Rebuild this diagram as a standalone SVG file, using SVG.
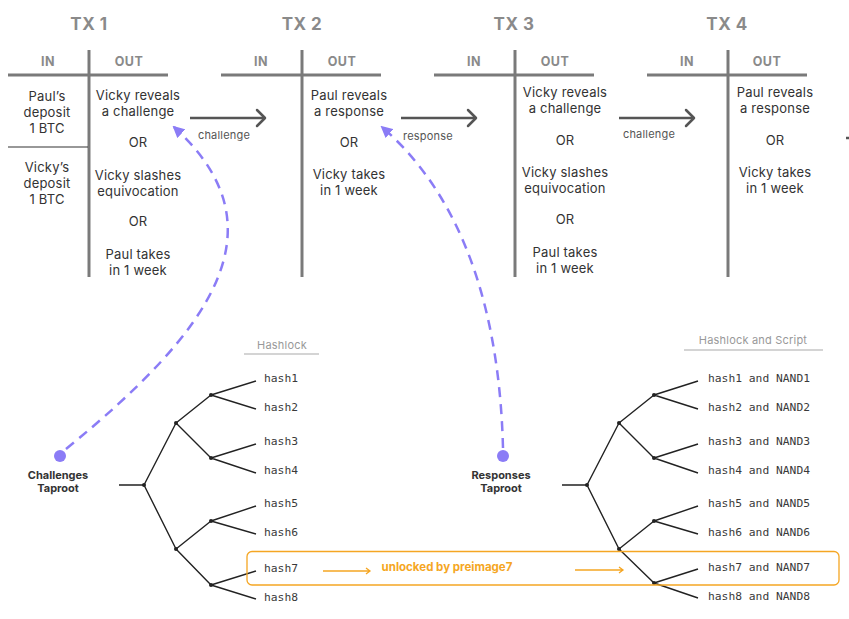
<svg xmlns="http://www.w3.org/2000/svg" width="849" height="619" viewBox="0 0 849 619">
<style>
.title{font-family:Inter,"Liberation Sans",sans-serif;font-weight:700;font-size:17px;fill:#8a8a8a;text-anchor:middle;letter-spacing:0.5px}
.hdr{font-family:Inter,"Liberation Sans",sans-serif;font-weight:700;font-size:12.5px;fill:#8a8a8a;text-anchor:middle;letter-spacing:0.5px}
.body{font-family:Inter,"Liberation Sans",sans-serif;font-size:13px;fill:#333;text-anchor:middle;letter-spacing:0.2px}
.lbl{font-family:Inter,"Liberation Sans",sans-serif;font-size:11px;fill:#555;text-anchor:middle;letter-spacing:0.2px}
.thick{stroke:#7a7a7a;stroke-width:3;fill:none}
.thin{stroke:#333;stroke-width:1.2;fill:none}
.arr{stroke:#555;stroke-width:2.5;fill:none}
.ahead{stroke:#555;stroke-width:2.5;fill:none;stroke-linecap:round;stroke-linejoin:round}
.dash{stroke:#8b7cf6;stroke-width:2.5;fill:none;stroke-dasharray:10 7}
.tree{stroke:#222;stroke-width:1.4;fill:none}
.node{fill:#222}
.mono{font-family:"DejaVu Sans Mono","Liberation Mono",monospace;font-size:11.3px;fill:#3a3a3a}
.cap{font-family:Inter,"Liberation Sans",sans-serif;font-size:11px;fill:#999;text-anchor:middle;letter-spacing:0.2px}
.capline{stroke:#aaa;stroke-width:1.2}
.root{font-family:Inter,"Liberation Sans",sans-serif;font-weight:700;font-size:11px;fill:#333;text-anchor:middle}
.orange{stroke:#f5a623;stroke-width:1.3;fill:none}
.otext{font-family:Inter,"Liberation Sans",sans-serif;font-weight:700;font-size:11.5px;fill:#f5a623;text-anchor:middle}
</style>
<defs>
<marker id="pa" markerWidth="12" markerHeight="12" viewBox="0 0 12 12" refX="10" refY="6" orient="auto" markerUnits="userSpaceOnUse">
<path d="M0,0 L12,6 L0,12 Z" fill="#8b7cf6"/>
</marker>
</defs>

<g id="tx1">
<text class="title" x="89" y="30">TX 1</text>
<text class="hdr" x="48" y="66">IN</text>
<text class="hdr" x="129" y="66">OUT</text>
<line class="thick" x1="8" y1="75" x2="168" y2="75"/>
<line class="thick" x1="89" y1="50" x2="89" y2="277"/>
<line class="thin" x1="8" y1="147" x2="88" y2="147"/>
<text class="body" x="47" y="101">Paul’s</text>
<text class="body" x="47" y="117">deposit</text>
<text class="body" x="47" y="133">1 BTC</text>
<text class="body" x="47" y="172">Vicky’s</text>
<text class="body" x="47" y="188">deposit</text>
<text class="body" x="47" y="204">1 BTC</text>
<text class="body" x="138" y="100">Vicky reveals</text>
<text class="body" x="138" y="116">a challenge</text>
<text class="body" x="138" y="147">OR</text>
<text class="body" x="138" y="180">Vicky slashes</text>
<text class="body" x="138" y="196">equivocation</text>
<text class="body" x="138" y="226">OR</text>
<text class="body" x="138" y="259">Paul takes</text>
<text class="body" x="138" y="275">in 1 week</text>
</g>

<g id="tx2">
<text class="title" x="302" y="30">TX 2</text>
<text class="hdr" x="261" y="66">IN</text>
<text class="hdr" x="342" y="66">OUT</text>
<line class="thick" x1="221" y1="75" x2="381" y2="75"/>
<line class="thick" x1="302" y1="50" x2="302" y2="277"/>
<text class="body" x="349" y="100">Paul reveals</text>
<text class="body" x="349" y="116">a response</text>
<text class="body" x="349" y="147">OR</text>
<text class="body" x="349" y="179">Vicky takes</text>
<text class="body" x="349" y="195">in 1 week</text>
</g>

<g id="tx3">
<text class="title" x="514" y="30">TX 3</text>
<text class="hdr" x="474" y="66">IN</text>
<text class="hdr" x="555" y="66">OUT</text>
<line class="thick" x1="434" y1="75" x2="594" y2="75"/>
<line class="thick" x1="515" y1="50" x2="515" y2="277"/>
<text class="body" x="565" y="97">Vicky reveals</text>
<text class="body" x="565" y="113">a challenge</text>
<text class="body" x="565" y="145">OR</text>
<text class="body" x="565" y="177">Vicky slashes</text>
<text class="body" x="565" y="193">equivocation</text>
<text class="body" x="565" y="224">OR</text>
<text class="body" x="565" y="257">Paul takes</text>
<text class="body" x="565" y="273">in 1 week</text>
</g>

<g id="tx4">
<text class="title" x="727" y="30">TX 4</text>
<text class="hdr" x="687" y="66">IN</text>
<text class="hdr" x="767" y="66">OUT</text>
<line class="thick" x1="647" y1="75" x2="807" y2="75"/>
<line class="thick" x1="728" y1="50" x2="728" y2="277"/>
<text class="body" x="775" y="97">Paul reveals</text>
<text class="body" x="775" y="113">a response</text>
<text class="body" x="775" y="145">OR</text>
<text class="body" x="775" y="177">Vicky takes</text>
<text class="body" x="775" y="193">in 1 week</text>
</g>

<g id="challenges-tree">
<text class="cap" x="282" y="349">Hashlock</text>
<line class="capline" x1="244" y1="354" x2="319" y2="354"/>
<circle cx="60" cy="456" r="6" fill="#8b7cf6"/>
<text class="root" x="58" y="479">Challenges</text>
<text class="root" x="58" y="492">Taproot</text>
<path class="tree" d="M119,485 H144 M144,485 L176,423 M144,485 L176,549 M176,423 L211,395 M176,423 L211,458 M176,549 L211,521 M176,549 L211,585 M211,395 L256,381 M211,395 L256,409 M211,458 L256,444 M211,458 L256,473 M211,521 L256,506 M211,521 L256,534 M211,585 L256,571 M211,585 L256,599"/>
<circle class="node" cx="144" cy="485" r="2"/>
<circle class="node" cx="176" cy="423" r="2"/>
<circle class="node" cx="176" cy="549" r="2"/>
<circle class="node" cx="211" cy="395" r="2"/>
<circle class="node" cx="211" cy="458" r="2"/>
<circle class="node" cx="211" cy="521" r="2"/>
<circle class="node" cx="211" cy="585" r="2"/>
<text class="mono" x="264" y="382">hash1</text>
<text class="mono" x="264" y="411">hash2</text>
<text class="mono" x="264" y="445">hash3</text>
<text class="mono" x="264" y="474">hash4</text>
<text class="mono" x="264" y="507">hash5</text>
<text class="mono" x="264" y="536">hash6</text>
<text class="mono" x="264" y="572">hash7</text>
<text class="mono" x="264" y="601">hash8</text>
</g>

<g id="responses-tree">
<text class="cap" x="753" y="344">Hashlock and Script</text>
<line class="capline" x1="684" y1="350" x2="823" y2="350"/>
<circle cx="503" cy="456" r="6" fill="#8b7cf6"/>
<text class="root" x="501" y="479">Responses</text>
<text class="root" x="501" y="492">Taproot</text>
<path class="tree" d="M562,485 H587 M587,485 L619,423 M587,485 L619,549 M619,423 L654,395 M619,423 L654,458 M619,549 L654,521 M619,549 L654,583 M654,395 L698,381 M654,395 L698,409 M654,458 L698,444 M654,458 L698,473 M654,521 L698,506 M654,521 L698,534 M654,583 L698,569 M654,583 L698,598"/>
<circle class="node" cx="587" cy="485" r="2"/>
<circle class="node" cx="619" cy="423" r="2"/>
<circle class="node" cx="619" cy="549" r="2"/>
<circle class="node" cx="654" cy="395" r="2"/>
<circle class="node" cx="654" cy="458" r="2"/>
<circle class="node" cx="654" cy="521" r="2"/>
<circle class="node" cx="654" cy="583" r="2"/>
<text class="mono" x="708" y="382">hash1 and NAND1</text>
<text class="mono" x="708" y="411">hash2 and NAND2</text>
<text class="mono" x="708" y="445">hash3 and NAND3</text>
<text class="mono" x="708" y="474">hash4 and NAND4</text>
<text class="mono" x="708" y="507">hash5 and NAND5</text>
<text class="mono" x="708" y="536">hash6 and NAND6</text>
<text class="mono" x="708" y="571">hash7 and NAND7</text>
<text class="mono" x="708" y="600">hash8 and NAND8</text>
</g>

<g id="unlock-highlight">
<rect class="orange" x="247" y="551.5" width="592" height="33.5" rx="5"/>
<path class="orange" d="M323,571 H370 M366,568 L370,571 L366,574"/>
<text class="otext" x="447" y="571">unlocked by preimage7</text>
<path class="orange" d="M575,570 H623 M619,567 L623,570 L619,573"/>
</g>

<g id="connectors">
<path class="arr" d="M190,118 H265"/>
<path class="ahead" d="M257,110 L265,118 L257,126"/>
<text class="lbl" x="224" y="139">challenge</text>
<path class="arr" d="M401,118 H476"/>
<path class="ahead" d="M468,110 L476,118 L468,126"/>
<text class="lbl" x="428" y="140">response</text>
<path class="arr" d="M619,118 H694"/>
<path class="ahead" d="M686,110 L694,118 L686,126"/>
<text class="lbl" x="649" y="138">challenge</text>
<path class="arr" d="M846,138 H849"/>
<path class="dash" d="M66,449 C212,330 285,228 174,127" marker-end="url(#pa)"/>
<path class="dash" d="M503,448 C500,330 472,205 382,127" marker-end="url(#pa)"/>
</g>
</svg>
